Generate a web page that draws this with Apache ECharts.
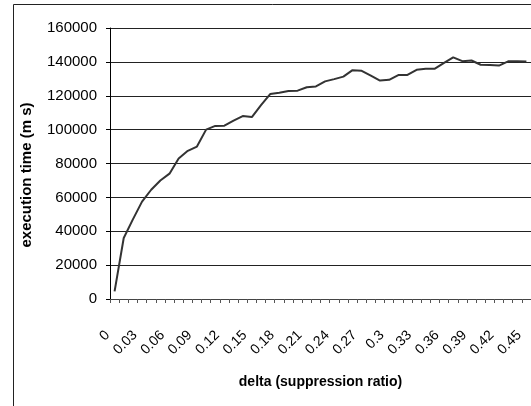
<!DOCTYPE html>
<html>
<head>
<meta charset="utf-8">
<script src="https://cdn.jsdelivr.net/npm/echarts@6/dist/echarts.min.js"></script>
<style>
html,body{margin:0;padding:0;background:#fff;}
#c{width:531px;height:406px;}
</style>
</head>
<body>
<div id="c"></div>
<script>
var categories = ['0','0.01','0.02','0.03','0.04','0.05','0.06','0.07','0.08','0.09',
  '0.1','0.11','0.12','0.13','0.14','0.15','0.16','0.17','0.18','0.19',
  '0.2','0.21','0.22','0.23','0.24','0.25','0.26','0.27','0.28','0.29',
  '0.3','0.31','0.32','0.33','0.34','0.35','0.36','0.37','0.38','0.39',
  '0.4','0.41','0.42','0.43','0.44','0.45'];
var executionTime = [4500, 36000, 47000, 57500, 64500, 70000, 74000, 83000, 87500, 90000,
  100000, 102200, 102300, 105300, 108000, 107400, 114500, 121000, 121800, 122800,
  123000, 125000, 125500, 128500, 129800, 131300, 135100, 134700, 131900, 129000,
  129400, 132200, 132300, 135300, 135900, 136000, 139400, 142700, 140400, 140800,
  138300, 138200, 137800, 140300, 140300, 140200];
var yTicks = [0, 20000, 40000, 60000, 80000, 100000, 120000, 140000, 160000];
var xAxisTitle = 'delta (suppression ratio)';
var yAxisTitle = 'execution time (m s)';

var FONT = '"Liberation Sans", Arial, sans-serif';
var chart = echarts.init(document.getElementById('c'), null, {renderer: 'canvas'});
chart.setOption({
  animation: false,
  backgroundColor: '#fff',
  grid: {left: 110, top: 28, bottom: 107, right: -3, containLabel: false},
  graphic: [
    {type: 'rect', shape: {x: 13.5, y: 4.5, width: 600, height: 500},
     style: {fill: 'none', stroke: '#222', lineWidth: 1}, silent: true, z: -1},
    {type: 'text', x: 27, y: 175, rotation: Math.PI / 2,
     style: {text: yAxisTitle, font: 'bold 15px ' + FONT, fill: '#000',
             align: 'center', verticalAlign: 'middle'}}
  ],
  xAxis: {
    type: 'category',
    data: categories,
    boundaryGap: true,
    name: xAxisTitle,
    nameLocation: 'middle',
    nameGap: 76,
    nameTextStyle: {fontFamily: FONT, fontWeight: 'bold', fontSize: 14, color: '#000'},
    axisLine: {show: true, lineStyle: {color: '#444', width: 1}},
    axisTick: {show: true, length: 4, interval: 0, alignWithLabel: false, lineStyle: {color: '#555'}},
    axisLabel: {interval: 2, rotate: 45, margin: 27, padding: [0, 10, 0, 0],
                fontFamily: FONT, fontSize: 14, color: '#000'},
    splitLine: {show: false}
  },
  yAxis: {
    type: 'value',
    min: yTicks[0],
    max: yTicks[yTicks.length - 1],
    interval: yTicks[1] - yTicks[0],
    axisLine: {show: true, lineStyle: {color: '#000', width: 1}},
    axisTick: {show: true, length: 4, inside: false, lineStyle: {color: '#000'}},
    axisLabel: {margin: 13, fontFamily: FONT, fontSize: 15, color: '#000',
                formatter: function (v) { return String(v); }},
    splitLine: {show: true, lineStyle: {color: '#222', width: 1}}
  },
  series: [{
    type: 'line',
    data: executionTime,
    showSymbol: false,
    symbol: 'none',
    smooth: false,
    lineStyle: {color: '#333', width: 2},
    z: 3
  }]
});
</script>
</body>
</html>
